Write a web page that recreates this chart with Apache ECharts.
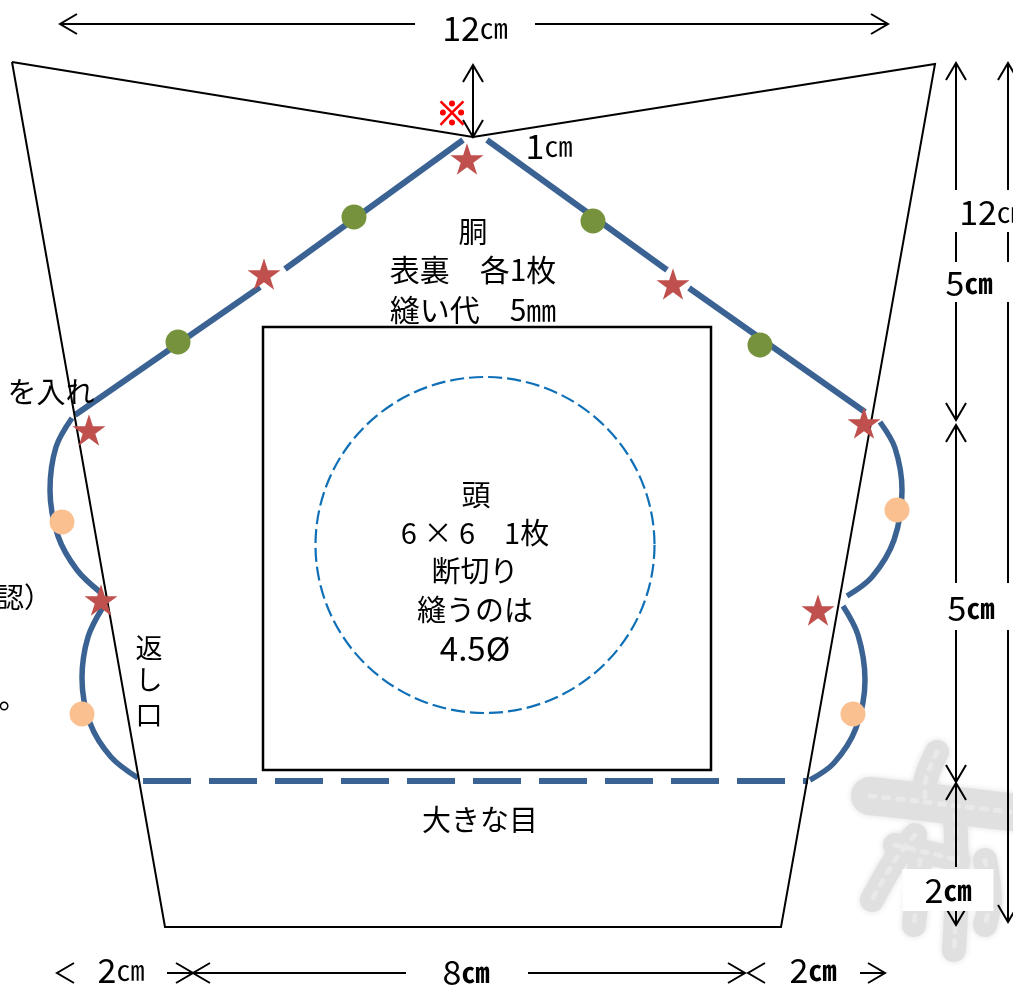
<!DOCTYPE html>
<html><head><meta charset="utf-8">
<style>html,body{margin:0;padding:0;background:#fff}#c{width:1013px;height:985px}</style>
<script src="https://cdn.jsdelivr.net/npm/echarts@6/dist/echarts.min.js"></script>
</head><body><div id="c"></div>
<script>
// Pattern outline
const outline = [[12,62],[473,137],[935,64],[781,927],[165,927],[12,62]];
// Inner square
const square = [[263,327],[711,327],[711,770],[263,770],[263,327]];
// Stitch lines
const roofLines = [
  [[75,415],[260,287]], [[285,269],[463,140]],
  [[487,140],[667,270]], [[689,288],[865,412]]
];
const curves = [
  [[72,418],[56,447],[50,490],[58,536],[77,570],[100,592]],
  [[103,607],[88,637],[82,678],[90,723],[111,757],[138,778]],
  [[880,422],[895,448],[902,490],[894,540],[872,577],[847,596]],
  [[843,606],[858,635],[865,680],[856,728],[834,763],[810,780]]
];
const basting = [[143,781],[808,781]];
// Markers
const circleCentre = [[485,545]];
const greenDots = [[354,217],[593,221],[178,342],[760,345]];
const peachDots = [[62,522],[82,714],[897,510],[853,714]];
const stars = [[467,159],[264,274],[673,284],[89,430],[101,600],[864,423],[818,610]];
// Dimension lines
const dimLines = [
  [[60,24],[415,24]], [[535,24],[888,24]], [[473,65],[473,137]],
  [[956,63],[956,190]], [[956,232],[956,262]], [[956,302],[956,420]],
  [[956,425],[956,583]], [[956,630],[956,782]], [[956,783],[956,867]], [[956,911],[956,925]],
  [[1008,63],[1008,190]], [[1008,232],[1008,262]], [[1008,302],[1008,583]], [[1008,630],[1008,922]],
  [[167,973],[193,973]], [[193,973],[406,973]], [[528,973],[745,973]], [[860,973],[885,973]]
];
// Arrow tips: x, y, direction the arrow points
const arrowTips = [
  [60,24,'L'],[888,24,'R'],[473,65,'U'],[473,137,'D'],
  [956,63,'U'],[956,420,'D'],[956,425,'U'],[956,782,'D'],[956,783,'U'],[956,925,'D'],
  [1008,63,'U'],[1008,922,'D'],
  [57,973,'L'],[193,973,'R'],[193,973,'L'],[745,973,'R'],[748,973,'L'],[885,973,'R']
];
// Faint background motif
const motif = [
  [[937,752],[925,785],[925,800]],
  [[870,796],[925,802],[1010,812]],
  [[915,835],[895,860],[872,900]],
  [[895,845],[925,852],[958,860]],
  [[955,815],[957,880],[954,950]],
  [[920,860],[914,925]],
  [[985,860],[990,900],[985,925]]
];
// Plain texts
const labelText = ['胴','表裏　各1枚','縫い代　5㎜','頭','6 × 6　1枚','断切り','縫うのは','4.5Ø','大きな目','返','し','口','を入れ','確認）','。','※'];
const labelPos = [[473,232],[473,270],[473,310],[476,495],[475,533],[475,571],[475,610],[475,648],[480,820],[149,648],[149,680],[149,715],[51,392],[10,597],[13,698],[452,113]];
const labelSize = [29,30,30,29,29,29,29,33,29,27,27,27,29,28,29,32];
// Measure texts: number, unit
const measureNum = ['12','1','12','5','5','2','2','8','2'];
const measureUnit = ['㎝','㎝','㎝','㎝','㎝','㎝','㎝','㎝','㎝'];
const measurePos = [[475,28],[549,146],[992,212],[969,283],[971,608],[948,890],[121,970],[466,972],[813,970]];
const measureBold = [false,false,false,true,true,true,false,true,true];

const line = (data, color, width, extra) => Object.assign({
  type:'line', data, showSymbol:false, silent:true, clip:false, animation:false,
  lineStyle:{color, width, cap:'butt', join:'miter'}
}, extra||{});

const series = [];
const GREY = '#e0e0e0';
motif.forEach((m,i) => series.push(line(m,GREY,24,{z:1,smooth:0.3,lineStyle:{color:GREY,width:i===1?38:24,cap:'round',join:'round',shadowBlur:6,shadowColor:GREY}})));
motif.forEach((m,i) => series.push(line(m,'#e9e9e9',5,{z:1,smooth:0.3,lineStyle:{color:'#e9e9e9',width:5,type:[5,9],cap:'round',join:'round'}})));
series.push(line(square,'#000',2.5,{z:3,lineStyle:{color:'#000',width:2.5,cap:'square',join:'miter'}}));
roofLines.forEach(r => series.push(line(r,'#3a6293',6,{z:4})));
curves.forEach(c => series.push(line(c,'#3a6293',5.5,{z:4,smooth:0.33})));
series.push(line(basting,'#3a6293',6,{z:4,lineStyle:{color:'#3a6293',width:6,type:[48,18]}}));
series.push(line(outline,'#000',2,{z:5}));
dimLines.forEach(d => series.push(line(d,'#000',2,{z:6})));
const HEAD_BACK = 17, HEAD_SIDE = 10;
const dirs = {L:[1,0],R:[-1,0],U:[0,1],D:[0,-1]};
arrowTips.forEach(([x,y,d]) => {
  const [bx,by] = dirs[d];
  const px = by, py = bx;
  series.push(line([[x+bx*HEAD_BACK+px*HEAD_SIDE,y+by*HEAD_BACK+py*HEAD_SIDE],[x,y],[x+bx*HEAD_BACK-px*HEAD_SIDE,y+by*HEAD_BACK-py*HEAD_SIDE]],'#000',2,{z:6}));
});
const dot = (data,color,size,z,extra) => Object.assign({type:'scatter',data,symbolSize:size,silent:true,clip:false,animation:false,z,itemStyle:{color,opacity:1}},extra||{});
series.push(dot(circleCentre,'none',[339,336],4,{itemStyle:{opacity:1,color:'rgba(0,0,0,0)',borderColor:'#0f70b7',borderWidth:2.2,borderType:[14,5]}}));
series.push(dot(greenDots,'#76923c',25,7));
series.push(dot(peachDots,'#fac090',25,7));
series.push(dot(stars,'#c0504d',33,7,{symbol:'path://M50 0L61.8 36.3H100L69.1 58.8L80.9 95.1L50 72.6L19.1 95.1L30.9 58.8L0 36.3H38.2Z',symbolKeepAspect:true}));

const FONT = '"Noto Sans CJK JP"';
const plain = labelText.map((t,i)=>{
  const lab = {show:true,position:'inside',formatter:t,fontFamily:FONT,fontSize:labelSize[i],color:'#000',opacity:1,align:'center',verticalAlign:'middle'};
  if(t==='※'){lab.color='#ff0000';lab.fontWeight='bold';lab.textBorderColor='#ff0000';lab.textBorderWidth=1.2;}
  return {value:labelPos[i],label:lab};
});
const measure = measureNum.map((n,i)=>{
  const lab = {show:true,position:'inside',formatter:`{d|${n}}{u|${measureUnit[i]}}`,opacity:1,align:'center',verticalAlign:'middle',
    rich:{d:{fontFamily:FONT,fontSize:34,color:'#000',verticalAlign:'middle'},
          u:{fontFamily:FONT,fontSize:28,fontWeight:measureBold[i]?'bold':'normal',color:'#000',verticalAlign:'middle'}}};
  if(i===5){lab.backgroundColor='#fff';lab.padding=[4,22,4,22];}
  return {value:measurePos[i],label:lab};
});
series.push({type:'scatter',symbolSize:0,silent:true,clip:false,animation:false,z:9,itemStyle:{opacity:1},data:plain.concat(measure)});

const chart = echarts.init(document.getElementById('c'),null,{renderer:'canvas'});
chart.setOption({
  animation:false, backgroundColor:'#fff',
  grid:{left:0,right:0,top:0,bottom:0,containLabel:false},
  xAxis:{type:'value',min:0,max:1013,show:false},
  yAxis:{type:'value',min:0,max:985,inverse:true,show:false},
  series
});
</script></body></html>
